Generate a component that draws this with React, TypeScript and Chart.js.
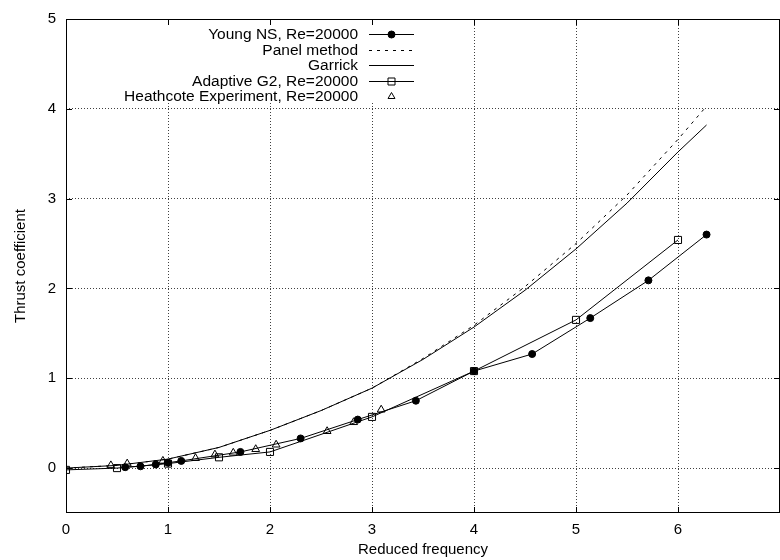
import React, { useEffect, useRef } from "react";
import { Chart, registerables } from "chart.js";

Chart.register(...registerables);

// Reduced frequency (k) and thrust coefficient (Ct) for each series
const youngK = [0.58, 0.73, 0.88, 1.0, 1.13, 1.71, 2.3, 2.86, 3.43, 4.0, 4.57, 5.14, 5.71, 6.28];
const youngCt = [0.01, 0.02, 0.04, 0.06, 0.08, 0.18, 0.33, 0.54, 0.75, 1.08, 1.27, 1.67, 2.09, 2.6];

const panelK = [0, 0.5, 1, 1.5, 2, 2.5, 3, 3.5, 4, 4.5, 5, 5.5, 6, 6.28];
const panelCt = [0, 0.03, 0.1, 0.23, 0.42, 0.64, 0.89, 1.22, 1.59, 2.02, 2.5, 3.04, 3.66, 4.03];

const garrickK = [0, 0.5, 1, 1.5, 2, 2.5, 3, 3.5, 4, 4.5, 5, 5.5, 6, 6.28];
const garrickCt = [0, 0.03, 0.1, 0.23, 0.42, 0.64, 0.89, 1.21, 1.57, 1.98, 2.44, 2.95, 3.52, 3.82];

const adaptiveK = [0, 0.5, 1, 1.5, 2, 3, 4, 5, 6];
const adaptiveCt = [-0.02, 0.0, 0.05, 0.12, 0.18, 0.57, 1.08, 1.65, 2.54];

const heathK = [0.44, 0.6, 0.95, 1.27, 1.46, 1.64, 1.86, 2.06, 2.56, 2.82, 3.09];
const heathCt = [0.03, 0.05, 0.08, 0.11, 0.15, 0.17, 0.21, 0.26, 0.41, 0.51, 0.65];

const xTicks = [0, 1, 2, 3, 4, 5, 6];
const yTicks = [0, 1, 2, 3, 4, 5];

const seriesLabels = [
  "Young NS, Re=20000",
  "Panel method",
  "Garrick",
  "Adaptive G2, Re=20000",
  "Heathcote Experiment, Re=20000",
];

const FONT = "'Liberation Sans', Arial, Helvetica, sans-serif";
const W = 786;
const H = 560;

const pts = (xs: number[], ys: number[]) => xs.map((x, i) => ({ x, y: ys[i] }));

type Kind = "circle" | "dash" | "solid" | "rect" | "triangle";
const keyKinds: Kind[] = ["circle", "dash", "solid", "rect", "triangle"];

function drawMarker(ctx: CanvasRenderingContext2D, kind: Kind, x: number, y: number) {
  ctx.beginPath();
  if (kind === "circle") {
    ctx.arc(x, y, 3.5, 0, Math.PI * 2);
    ctx.fillStyle = "#000";
    ctx.fill();
    ctx.stroke();
  } else if (kind === "rect") {
    const s = 3.5;
    ctx.rect(x - s, y - s, 2 * s, 2 * s);
    ctx.stroke();
  } else if (kind === "triangle") {
    const r = 4;
    for (let i = 0; i < 3; i++) {
      const a = (i * 2 * Math.PI) / 3;
      const px = x + Math.sin(a) * r;
      const py = y - Math.cos(a) * r;
      if (i === 0) ctx.moveTo(px, py);
      else ctx.lineTo(px, py);
    }
    ctx.closePath();
    ctx.stroke();
  }
}

const frameAndKey = {
  id: "frameAndKey",
  afterDraw(chart: any) {
    const { ctx, chartArea: a, scales } = chart;
    const xs = scales.x;
    const ys = scales.y;
    ctx.save();

    // opaque key box
    const keyLeft = 112;
    const keyRight = 428;
    const keyBottom = 101;
    ctx.fillStyle = "#fff";
    ctx.fillRect(keyLeft, a.top + 1, keyRight - keyLeft, keyBottom - a.top - 1);

    // key entries: right-aligned label, sample line / marker on the right
    const textRight = 358;
    const sampleL = 369;
    const sampleR = 414;
    const sampleMid = (sampleL + sampleR) / 2;
    ctx.font = `15.5px ${FONT}`;
    ctx.textAlign = "right";
    ctx.textBaseline = "middle";
    ctx.lineWidth = 1;
    ctx.strokeStyle = "#000";
    seriesLabels.forEach((label, i) => {
      const y = Math.round(a.top + 15 + i * 15.5) + 0.5;
      ctx.fillStyle = "#000";
      ctx.fillText(label, textRight, y);
      const kind = keyKinds[i];
      if (kind !== "triangle") {
        ctx.beginPath();
        ctx.setLineDash(kind === "dash" ? [3, 5] : []);
        ctx.moveTo(sampleL, y);
        ctx.lineTo(sampleR, y);
        ctx.stroke();
        ctx.setLineDash([]);
      }
      drawMarker(ctx, kind, sampleMid, y);
    });

    // frame
    ctx.strokeStyle = "#000";
    ctx.lineWidth = 1;
    ctx.setLineDash([]);
    ctx.strokeRect(a.left + 0.5, a.top + 0.5, a.right - a.left - 1, a.bottom - a.top - 1);

    // inward tick marks on all four sides
    const tl = 6;
    ctx.beginPath();
    xTicks.forEach((v) => {
      const px = Math.round(xs.getPixelForValue(v)) + 0.5;
      ctx.moveTo(px, a.bottom);
      ctx.lineTo(px, a.bottom - tl);
      ctx.moveTo(px, a.top);
      ctx.lineTo(px, a.top + tl);
    });
    yTicks.forEach((v) => {
      const py = Math.round(ys.getPixelForValue(v)) + 0.5;
      ctx.moveTo(a.left, py);
      ctx.lineTo(a.left + tl, py);
      ctx.moveTo(a.right, py);
      ctx.lineTo(a.right - tl, py);
    });
    ctx.stroke();
    ctx.restore();
  },
};

export default function App() {
  const ref = useRef<HTMLCanvasElement | null>(null);

  useEffect(() => {
    document.documentElement.style.overflow = "hidden";
    document.body.style.overflow = "hidden";
    const canvas = ref.current;
    if (!canvas) return;

    const gridColor = "rgba(0,0,0,0.75)";
    const tickFont = { family: FONT, size: 15 };

    const chart = new Chart(canvas, {
      type: "scatter",
      data: {
        datasets: [
          {
            label: seriesLabels[0],
            data: pts(youngK, youngCt),
            showLine: true,
            borderColor: "#000",
            borderWidth: 1,
            pointStyle: "circle",
            pointRadius: 3.5,
            pointBorderWidth: 1,
            pointBackgroundColor: "#000",
            pointBorderColor: "#000",
          },
          {
            label: seriesLabels[1],
            data: pts(panelK, panelCt),
            showLine: true,
            borderColor: "#000",
            borderWidth: 1,
            borderDash: [3, 5],
            pointRadius: 0,
          },
          {
            label: seriesLabels[2],
            data: pts(garrickK, garrickCt),
            showLine: true,
            borderColor: "#000",
            borderWidth: 1,
            pointRadius: 0,
          },
          {
            label: seriesLabels[3],
            data: pts(adaptiveK, adaptiveCt),
            showLine: true,
            borderColor: "#000",
            borderWidth: 1,
            pointStyle: "rect",
            pointRadius: 5,
            pointBorderWidth: 1,
            pointBackgroundColor: "rgba(0,0,0,0)",
            pointBorderColor: "#000",
          },
          {
            label: seriesLabels[4],
            data: pts(heathK, heathCt),
            showLine: false,
            borderColor: "#000",
            pointStyle: "triangle",
            pointRadius: 4.5,
            pointBorderWidth: 1,
            pointBackgroundColor: "rgba(0,0,0,0)",
            pointBorderColor: "#000",
          },
        ],
      },
      options: {
        animation: false,
        responsive: false,
        devicePixelRatio: 1,
        layout: { padding: { left: 0, right: 3, top: 14, bottom: 0 } },
        plugins: {
          legend: { display: false },
          tooltip: { enabled: false },
        },
        scales: {
          x: {
            type: "linear",
            min: 0,
            max: 7,
            afterBuildTicks: (s: any) => {
              s.ticks = xTicks.map((v) => ({ value: v }));
            },
            afterFit: (s: any) => {
              s.height = 47;
            },
            grid: { color: gridColor, lineWidth: 1, drawTicks: false },
            border: { display: false, dash: [1, 2] },
            ticks: { color: "#000", font: tickFont, padding: 8, maxRotation: 0 },
            title: {
              display: true,
              text: "Reduced frequency",
              color: "#000",
              font: { family: FONT, size: 15 },
              padding: { top: 0, bottom: 1 },
            },
          },
          y: {
            type: "linear",
            min: -0.5,
            max: 5,
            afterBuildTicks: (s: any) => {
              s.ticks = yTicks.map((v) => ({ value: v }));
            },
            afterFit: (s: any) => {
              s.width = 66;
            },
            grid: { color: gridColor, lineWidth: 1, drawTicks: false },
            border: { display: false, dash: [1, 2] },
            ticks: { color: "#000", font: tickFont, padding: 10 },
            title: {
              display: true,
              text: "Thrust coefficient",
              color: "#000",
              font: { family: FONT, size: 15 },
              padding: { top: 12, bottom: 0 },
            },
          },
        },
      },
      plugins: [frameAndKey],
    } as any);

    return () => chart.destroy();
  }, []);

  return (
    <div style={{ position: "fixed", left: 0, top: 0, width: W, height: H, background: "#fff" }}>
      <canvas ref={ref} width={W} height={H} style={{ display: "block", width: W, height: H }} />
    </div>
  );
}
